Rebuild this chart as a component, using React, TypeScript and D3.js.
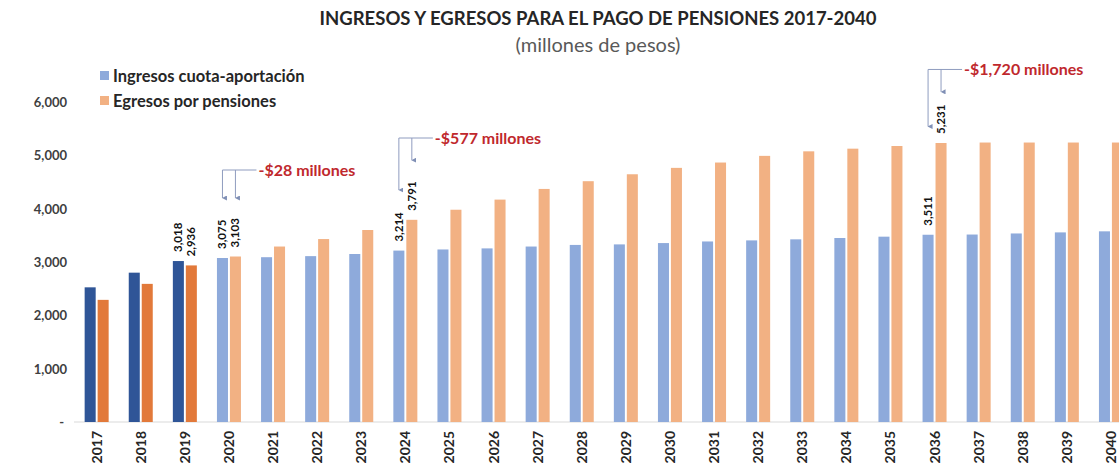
import React from "react";
import * as d3 from "d3";

const years = ["2017","2018","2019","2020","2021","2022","2023","2024","2025","2026","2027","2028","2029","2030","2031","2032","2033","2034","2035","2036","2037","2038","2039","2040"];
const ingresos = [2525,2800,3018,3075,3090,3110,3150,3214,3235,3255,3290,3320,3330,3355,3385,3405,3425,3450,3475,3511,3515,3535,3555,3575];
const egresos = [2290,2590,2936,3103,3290,3430,3600,3791,3980,4170,4370,4515,4645,4765,4865,4990,5075,5125,5175,5231,5240,5240,5240,5240];
const actualYears = ["2017","2018","2019"];
const labeledYears = ["2019","2020","2024","2036"];
const yTicks = [0,1000,2000,3000,4000,5000,6000];
const seriesNames = ["Ingresos cuota-aportación","Egresos por pensiones"];
const seriesKeys = ["ing","egr"];

// annotations: year, label, bracket level, arrow tips (values)
const annYears = ["2020","2024","2036"];
const annText = ["-$28 millones","-$577 millones","-$1,720 millones"];
const annLevel = [4725,5325,6610];
const annTipIng = [4200,4350,5540];
const annTipEgr = [4200,4910,6190];

const W = 1119, H = 470;
const FONT = "Lato, 'Open Sans', sans-serif";

export default function App() {
  const x0 = d3.scaleBand<string>().domain(years).range([74.6, 74.6 + 24 * 44.1]).padding(0);
  const gw = 24;
  const x1 = d3.scaleBand<string>().domain(seriesKeys).range([0, gw]).paddingInner(0.15);
  const y = d3.scaleLinear().domain([0, 6000]).range([422, 102]);
  const fmt = d3.format(",");

  const colors = (key: string, yr: string) => {
    const actual = actualYears.includes(yr);
    if (key === "ing") return actual ? "#2f5597" : "#8eaadb";
    return actual ? "#e2793a" : "#f2b183";
  };
  const barX = (yr: string, key: string) => (x0(yr) as number) + x0.bandwidth() / 2 - gw / 2 + (x1(key) as number);
  const barC = (yr: string, key: string) => barX(yr, key) + x1.bandwidth() / 2;

  return (
    <svg width={W} height={H} style={{ position: "absolute", left: 0, top: 0, background: "#fff" }} fontFamily={FONT}>
      <text x={598} y={25} textAnchor="middle" fontWeight={700} fontSize={18.5} fill="#262626">INGRESOS Y EGRESOS PARA EL PAGO DE PENSIONES 2017-2040</text>
      <text x={598} y={52} textAnchor="middle" fontSize={20} fill="#595959">(millones de pesos)</text>

      {/* legend */}
      {seriesNames.map((n, i) => (
        <g key={n}>
          <rect x={100} y={71 + i * 25} width={9} height={9} fill={i === 0 ? "#8eaadb" : "#f2b183"} />
          <text x={113} y={81.5 + i * 25} fontSize={16.5} fontWeight={700} fill="#262626">{n}</text>
        </g>
      ))}

      {/* y ticks */}
      {yTicks.map(t => (
        <text key={t} x={t === 0 ? 64 : 67} y={y(t) + 5} textAnchor="end" fontSize={13} fontWeight={700} fill="#404040">{t === 0 ? "-" : fmt(t)}</text>
      ))}

      {/* baseline */}
      <line x1={74} x2={W} y1={y(0)} y2={y(0)} stroke="#d9d9d9" strokeWidth={1} />

      {/* bars */}
      {years.map((yr, i) => (
        <g key={yr}>
          <rect x={barX(yr, "ing")} y={y(ingresos[i])} width={x1.bandwidth()} height={y(0) - y(ingresos[i])} fill={colors("ing", yr)} />
          <rect x={barX(yr, "egr")} y={y(egresos[i])} width={x1.bandwidth()} height={y(0) - y(egresos[i])} fill={colors("egr", yr)} />
          <text transform={`translate(${(x0(yr) as number) + x0.bandwidth() / 2 + 5},${y(0) + 9}) rotate(-90)`} textAnchor="end" fontSize={14} fontWeight={700} fill="#262626">{yr}</text>
        </g>
      ))}

      {/* value labels */}
      {years.map((yr, i) => labeledYears.includes(yr) ? (
        <g key={"l" + yr}>
          <text transform={`translate(${barC(yr, "ing") + 4},${y(ingresos[i]) - 9}) rotate(-90)`} fontSize={11.5} fontWeight={700} fill="#111">{fmt(ingresos[i])}</text>
          <text transform={`translate(${barC(yr, "egr") + 4},${y(egresos[i]) - 9}) rotate(-90)`} fontSize={11.5} fontWeight={700} fill="#111">{fmt(egresos[i])}</text>
        </g>
      ) : null)}

      {/* annotations */}
      <defs>
        <marker id="arr" viewBox="0 0 10 10" refX={5} refY={9} markerWidth={5} markerHeight={5} orient="auto-start-reverse">
          <path d="M0,0 L10,0 L5,10 z" fill="#7f8fb5" />
        </marker>
      </defs>
      {annYears.map((yr, k) => {
        const xa = barC(yr, "ing");
        const xb = barC(yr, "egr");
        const ly = y(annLevel[k]);
        return (
          <g key={"a" + yr}>
            <line x1={xa} x2={xa + 34} y1={ly} y2={ly} stroke="#8f9cbf" strokeWidth={1} />
            <line x1={xa} x2={xa} y1={ly} y2={y(annTipIng[k])} stroke="#8f9cbf" strokeWidth={1} markerEnd="url(#arr)" />
            <line x1={xb} x2={xb} y1={ly} y2={y(annTipEgr[k])} stroke="#8f9cbf" strokeWidth={1} markerEnd="url(#arr)" />
            <text x={xa + 36} y={ly + 5.5} fontSize={16} fontWeight={700} fill="#c0282d">{annText[k]}</text>
          </g>
        );
      })}
    </svg>
  );
}
